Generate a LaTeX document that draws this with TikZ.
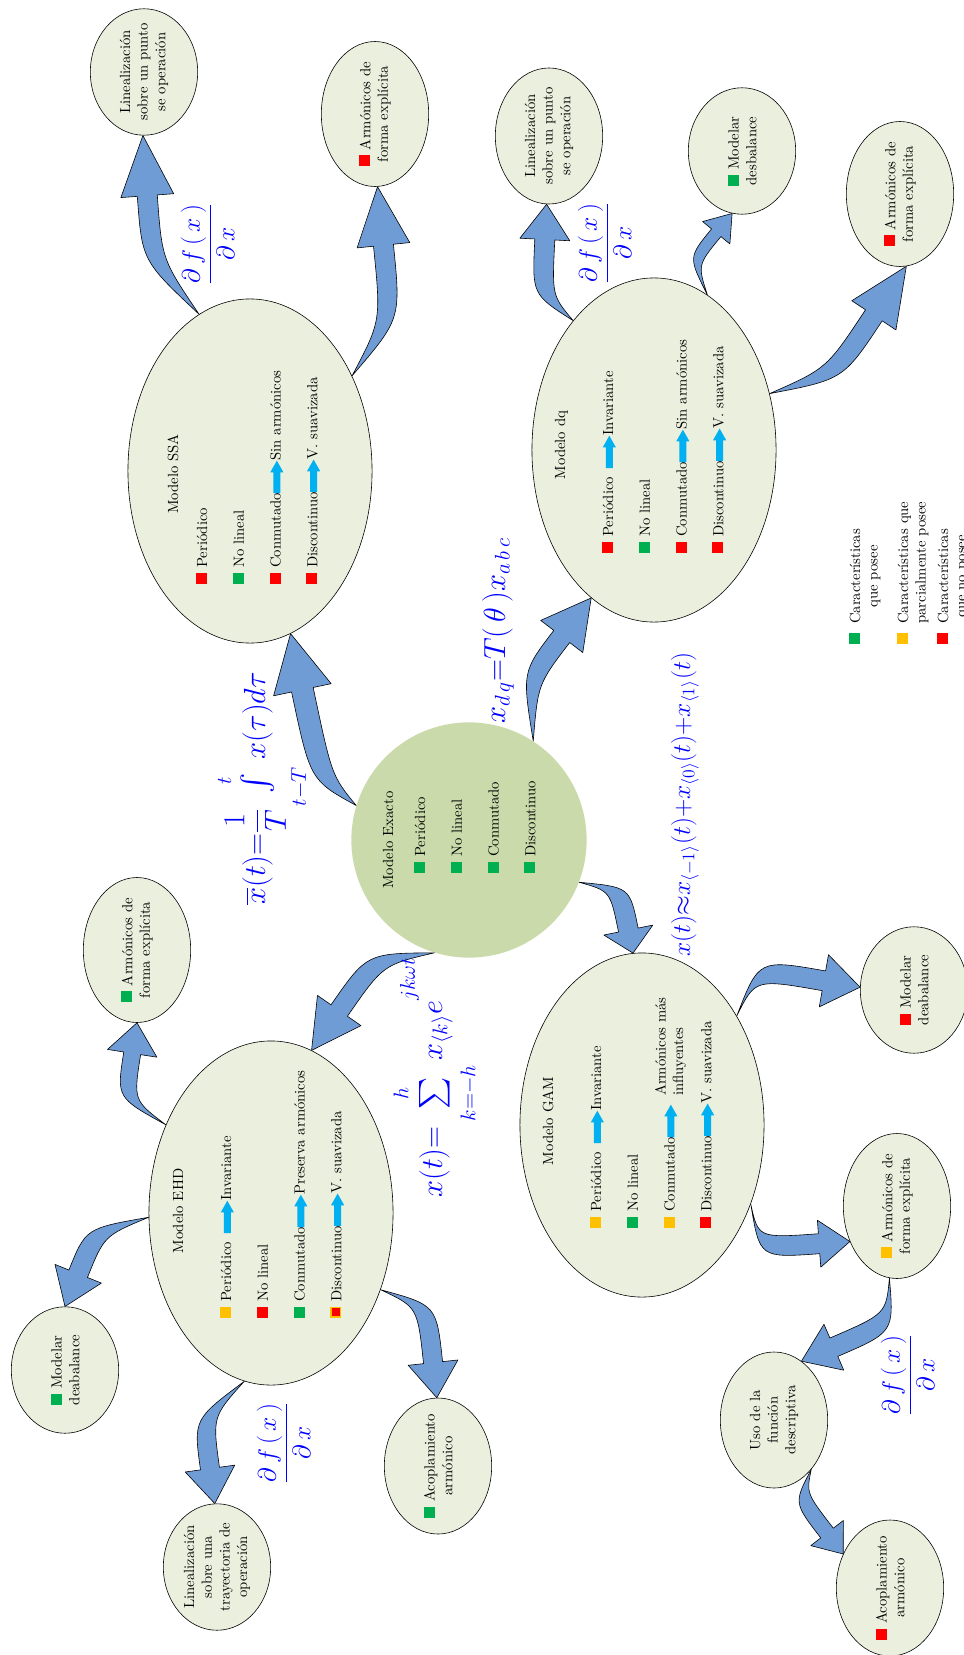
\documentclass[tikz,border=0pt]{standalone}
\usepackage{amsmath}
\usepackage{xcolor}
\usepackage{tikz}
\usetikzlibrary{shapes.geometric, calc}
\definecolor{elfill}{RGB}{235,239,222}
\definecolor{exfill}{RGB}{202,218,170}
\definecolor{arrfill}{RGB}{112,156,214}
\definecolor{cyanarr}{RGB}{0,176,240}
\definecolor{sqgreen}{RGB}{0,176,80}
\definecolor{sqyellow}{RGB}{255,192,0}
\definecolor{sqred}{RGB}{255,0,0}

\newcommand{\sq}[1]{\textcolor{#1}{\rule{7.5pt}{7.5pt}}}
\newcommand{\sqmix}{\textcolor{sqyellow}{\rule{7.5pt}{7.5pt}}\llap{\textcolor{sqred}{\raisebox{1pt}{\rule{5.5pt}{5.5pt}}}\hspace{1pt}}}
\newcommand{\flecha}{\tikz[baseline=-2.5pt]\fill[cyanarr] (0pt,-2.4pt) -- (14pt,-2.4pt) -- (14pt,-4.5pt) -- (22pt,0pt) -- (14pt,4.5pt) -- (14pt,2.4pt) -- (0pt,2.4pt) -- cycle;}
% tail, bend point, tip, head length, head half width, shaft half width
\newcommand{\fatarrow}[6]{%
  \path (#3) coordinate (fa-tip) ($(#3)!#4!(#2)$) coordinate (fa-base);
  \filldraw[bigarrow] (#1) .. controls ($(#2)!#6!90:(fa-tip)$) .. ($(fa-base)!#6!90:(fa-tip)$)
    -- ($(fa-base)!#5!90:(fa-tip)$) -- (fa-tip) -- ($(fa-base)!#5!-90:(fa-tip)$)
    -- ($(fa-base)!#6!-90:(fa-tip)$) .. controls ($(#2)!#6!-90:(fa-tip)$) .. (#1) -- cycle;
}

\begin{document}
\begin{tikzpicture}[
        x=0.68pt, y=-0.68pt,
        model/.style={ellipse, draw, fill=elfill, rotate=90, minimum width=234pt, minimum height=166pt},
        exact/.style={circle, fill=exfill, rotate=90, minimum size=160pt},
        result/.style={ellipse, draw, fill=elfill, rotate=90, align=center, inner xsep=-5pt, inner ysep=0pt, minimum height=73pt, minimum width=86pt},
        rmid/.style={result, minimum width=92.5pt},
        rlong/.style={result, minimum width=98.6pt},
        head/.style={rotate=90, anchor=base, inner sep=0pt},
        items/.style={rotate=90, anchor=base west, inner sep=0pt},
        formula/.style={rotate=90, text=blue, inner sep=0pt},
        legend/.style={rotate=90, anchor=base west, inner sep=0pt},
        bigarrow/.style={fill=arrfill, draw=black, line join=round},
    ]
        \useasboundingbox (0,0) rectangle (963,1655);

        % --- Centre: exact model ---
        \node[exact] (exact) at (469,840) {};
        \node[head] (exacthead) at (393,840) {Modelo Exacto};
        \node[items] (exactitems) at (425,873) {\begin{tabular}[t]{@{}l@{}}
            \sq{sqgreen}~Periódico\\[13pt]
            \sq{sqgreen}~No lineal\\[13pt]
            \sq{sqgreen}~Conmutado\\[13pt]
            \sq{sqgreen}~Discontinuo
        \end{tabular}};

        % --- Modelo SSA ---
        \node[model] (ssa) at (250,471) {};
        \node[head] (ssahead) at (178,474) {Modelo SSA};
        \node[items] (ssaitems) at (207,584) {\begin{tabular}[t]{@{}l@{}}
            \sq{sqred}~Periódico\\[13pt]
            \sq{sqgreen}~No lineal\\[13pt]
            \sq{sqred}~Conmutado\flecha Sin armónicos\\[13pt]
            \sq{sqred}~Discontinuo\flecha V. suavizada
        \end{tabular}};
        \node[result] (ssalin) at (144,72) {Linealización\\sobre un punto\\se operación};
        \node[rlong] (ssaarm) at (375,114) {\sq{sqred}~Armónicos de\\forma explícita};

        % --- Modelo dq ---
        \node[model] (dq) at (654,450) {};
        \node[head] (dqhead) at (565,445) {Modelo dq};
        \node[items] (dqitems) at (613,553) {\begin{tabular}[t]{@{}l@{}}
            \sq{sqred}~Periódico\hspace{6pt}\flecha Invariante\\[13pt]
            \sq{sqgreen}~No lineal\\[13pt]
            \sq{sqred}~Conmutado\flecha Sin armónicos\\[13pt]
            \sq{sqred}~Discontinuo\flecha V. suavizada
        \end{tabular}};
        \node[rmid] (dqlin) at (549,136) {Linealización\\sobre un punto\\se operación};
        \node[result] (dqdes) at (742,151) {\sq{sqgreen}~Modelar\\desbalance};
        \node[rlong] (dqarm) at (900,194) {\sq{sqred}~Armónicos de\\forma explícita};

        % --- Modelo EHD ---
        \node[model] (ehd) at (271,1213) {};
        \node[head] (ehdhead) at (183,1211) {Modelo EHD};
        \node[items] (ehditems) at (231,1318) {\begin{tabular}[t]{@{}l@{}}
            \sq{sqyellow}~Periódico\hspace{6pt}\flecha Invariante\\[13pt]
            \sq{sqred}~No lineal\\[13pt]
            \sq{sqgreen}~Conmutado\flecha Preserva armónicos\\[13pt]
            \sqmix~Discontinuo\flecha V. suavizada
        \end{tabular}};
        \node[rlong] (ehdarm) at (137,950) {\sq{sqgreen}~Armónicos de\\forma explícita};
        \node[result] (ehddes) at (65,1370) {\sq{sqgreen}~Modelar\\deabalance};
        \node[result] (ehdlin) at (217,1567) {Linealización\\sobre una\\trayectoria de\\operación};
        \node[rmid] (ehdacop) at (438,1466) {\sq{sqgreen}~Acoplamiento\\armónico};

        % --- Modelo GAM ---
        \node[model] (gam) at (642,1125) {};
        \node[head] (gamhead) at (553,1121) {Modelo GAM};
        \node[items] (gamitems) at (601,1228) {\begin{tabular}[t]{@{}l@{}}
            \sq{sqyellow}~Periódico\hspace{6pt}\flecha Invariante\\[13pt]
            \sq{sqgreen}~No lineal\\[13pt]
            \sq{sqyellow}~Conmutado\flecha\smash{\begin{tabular}[c]{l@{}}Armónicos más\\influyentes\end{tabular}}\\[13pt]
            \sq{sqred}~Discontinuo\flecha V. suavizada
        \end{tabular}};
        \node[result] (gamdes) at (914,990) {\sq{sqred}~Modelar\\deabalance};
        \node[rlong] (gamarm) at (897,1206) {\sq{sqyellow}~Armónicos de\\forma explícita};
        \node[rmid] (gamdesc) at (774,1420) {Uso de la\\función\\descriptiva};
        \node[rmid] (gamacop) at (890,1588) {\sq{sqred}~Acoplamiento\\armónico};

        % --- Legend ---
        \node[legend] (leggreen) at (860,644) {\sq{sqgreen}\begin{tabular}[t]{c}Características\\que posee\end{tabular}};
        \node[legend] (legyellow) at (908,644) {\sq{sqyellow}\begin{tabular}[t]{c}Características que\\parcialmente posee\end{tabular}};
        \node[legend] (legred) at (948,644) {\sq{sqred}\begin{tabular}[t]{c}Características\\que no posee\end{tabular}};

        % --- Big curved arrows ---
        \fatarrow{exact.73}{321,778}{ssa.194}{39pt}{20pt}{7.5pt}
        \fatarrow{ssa.18}{152,260}{ssalin.179}{41pt}{18pt}{6.8pt}
        \fatarrow{ssa.-47}{391,320}{ssaarm.182}{40pt}{18pt}{6.8pt}
        \fatarrow{exact.-33}{530,678}{dq.157.8}{33pt}{18pt}{6.8pt}
        \fatarrow{dq.32}{542,295}{dqlin.178}{24pt}{17pt}{6.8pt}
        \fatarrow{dq.-19}{693,261}{dqdes.171}{17pt}{12pt}{4.1pt}
        \fatarrow{dq.-64}{835,374}{dqarm.185.5}{40pt}{18pt}{6.8pt}
        \fatarrow{exact.-111}{620,889}{gam.3}{16pt}{17pt}{6.8pt}
        \fatarrow{exact.163}{375,959}{ehd.-14}{33pt}{18pt}{6.8pt}
        \fatarrow{ehd.50.5}{125,1099}{ehdarm.180}{21pt}{17pt}{5.8pt}
        \fatarrow{ehd.92}{95,1232}{ehddes.0}{24pt}{17pt}{6.8pt}
        \fatarrow{ehd.171}{203,1418}{ehdlin.2}{24pt}{17pt}{6.5pt}
        \fatarrow{ehd.-125}{427,1306}{ehdacop.1}{24pt}{17pt}{6.5pt}
        \fatarrow{gam.-41}{757,969}{gamdes.87}{25pt}{18pt}{6.8pt}
        \fatarrow{gam.-126}{759,1248}{gamarm.127.5}{21pt}{16pt}{6.8pt}
        \fatarrow{gamarm.174.5}{890,1323}{gamdesc.-25}{24pt}{17pt}{6.8pt}
        \fatarrow{gamdesc.-143}{800,1498}{gamacop.54}{18pt}{14pt}{5.4pt}

        % --- Formulas ---
        \node[formula, anchor=base west] (fssa) at (265,905) {\huge$\overline{x}(t){=}\dfrac{1}{T}\int\limits_{\rule{0pt}{18pt}t-T}^{t\rule[-4pt]{0pt}{0pt}}x(\tau)d\tau$};
        \node[formula, anchor=base west] (fdq) at (505,724) {\huge$x_{d\,q}{=}T(\,\theta\,)x_{a\,b\,c}$};
        \node[formula, anchor=base west] (fehd) at (442,1198) {\huge$x(t){=}\sum\limits_{\rule{0pt}{14pt}k=-h}^{h\rule[-5pt]{0pt}{0pt}}x_{\langle k\rangle}e^{\raisebox{11pt}{$\scriptstyle jk\omega t$}}$};
        \node[formula, anchor=base west] (fgam) at (690,957) {\LARGE$x(t){\approx}x_{\langle -1\rangle}(t){+}x_{\langle 0\rangle}(t){+}x_{\langle 1\rangle}(t)$};
        \node[formula, anchor=base] (fssalin) at (217,244) {\LARGE$\dfrac{\partial\,f\left(\,x\,\right)}{\partial\,x}$};
        \node[formula, anchor=base] (fdqlin) at (614,243) {\LARGE$\dfrac{\partial\,f\left(\,x\,\right)}{\partial\,x}$};
        \node[formula, anchor=base] (fehdlin) at (293,1443) {\LARGE$\dfrac{\partial\,f\left(\,x\,\right)}{\partial\,x}$};
        \node[formula, anchor=base] (fgamdesc) at (917,1375) {\LARGE$\dfrac{\partial\,f\left(\,x\,\right)}{\partial\,x}$};

    \end{tikzpicture}
\end{document}
